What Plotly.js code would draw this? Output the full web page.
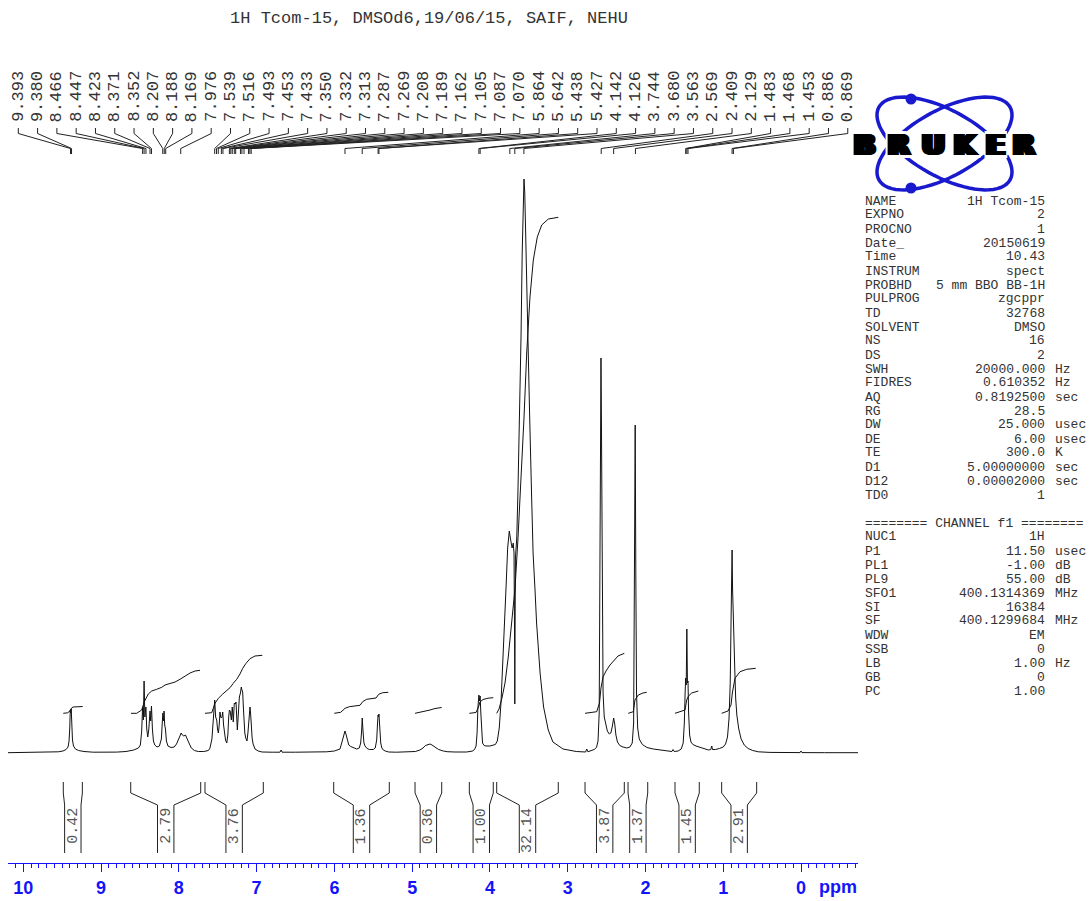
<!DOCTYPE html>
<html><head><meta charset="utf-8">
<script src="https://cdn.plot.ly/plotly-3.0.1.min.js"></script>
<style>html,body{margin:0;padding:0;background:#fff}#chart{width:1091px;height:901px}</style>
</head><body><div id="chart"></div>
<script>
// ---------------- DATA ----------------
const specPpm = [10.20,10.00,9.80,9.65,9.55,9.49,9.45,9.425,9.412,9.403,9.396,9.390,9.384,9.377,9.368,9.355,9.33,9.29,9.22,9.10,8.95,8.80,8.68,8.58,8.52,8.495,8.478,8.466,8.456,8.447,8.437,8.424,8.413,8.400,8.386,8.371,8.362,8.352,8.340,8.327,8.31,8.28,8.25,8.225,8.212,8.205,8.198,8.190,8.182,8.172,8.160,8.14,8.10,8.06,8.03,8.00,7.985,7.970,7.955,7.935,7.915,7.895,7.87,7.84,7.80,7.75,7.68,7.62,7.60,7.575,7.555,7.539,7.527,7.513,7.503,7.492,7.481,7.471,7.462,7.454,7.445,7.436,7.425,7.415,7.40,7.384,7.370,7.359,7.350,7.340,7.325,7.313,7.300,7.287,7.275,7.265,7.256,7.248,7.236,7.222,7.208,7.197,7.189,7.179,7.170,7.162,7.152,7.140,7.124,7.112,7.102,7.093,7.085,7.076,7.068,7.058,7.045,7.021,6.98,6.93,6.80,6.70,6.685,6.672,6.50,6.30,6.10,6.00,5.95,5.928,5.906,5.885,5.864,5.848,5.834,5.815,5.79,5.75,5.713,5.68,5.662,5.650,5.642,5.632,5.620,5.606,5.58,5.55,5.50,5.475,5.456,5.445,5.438,5.432,5.427,5.418,5.404,5.39,5.371,5.34,5.30,5.20,5.05,4.96,4.90,4.86,4.83,4.79,4.77,4.745,4.72,4.69,4.66,4.60,4.55,4.45,4.30,4.22,4.195,4.178,4.165,4.155,4.142,4.134,4.126,4.117,4.108,4.095,4.075,4.05,4.00,3.96,3.93,3.905,3.880,3.858,3.836,3.815,3.793,3.772,3.751,3.735,3.715,3.700,3.690,3.682,3.680,3.678,3.672,3.655,3.640,3.620,3.600,3.585,3.572,3.562,3.552,3.540,3.525,3.514,3.490,3.465,3.445,3.420,3.400,3.355,3.310,3.250,3.190,3.060,2.890,2.770,2.755,2.740,2.700,2.660,2.630,2.610,2.595,2.585,2.578,2.572,2.566,2.558,2.545,2.530,2.510,2.490,2.465,2.445,2.425,2.409,2.395,2.380,2.360,2.330,2.290,2.240,2.200,2.170,2.152,2.141,2.132,2.124,2.115,2.100,2.080,2.040,1.980,1.900,1.800,1.700,1.660,1.645,1.630,1.580,1.540,1.515,1.500,1.490,1.483,1.476,1.468,1.460,1.453,1.445,1.432,1.415,1.390,1.350,1.300,1.250,1.190,1.160,1.148,1.138,1.100,1.050,1.000,0.970,0.945,0.925,0.910,0.898,0.890,0.886,0.880,0.875,0.869,0.862,0.852,0.840,0.825,0.800,0.770,0.730,0.680,0.620,0.550,0.400,0.200,0.012,0.000,-0.012,-0.300,-0.733];
const specInt = [0.3,0.4,0.5,0.7,1.2,2,3.5,6,12,25,43,40,44,28,13,7,4,2.5,1.5,0.8,0.6,0.9,1.5,3,5,8,22,46,33,72,36,46,24,16,24,42,32,47,24,12,8,6,7,14,32,40,32,42,28,24,12,7,5.5,6,9,15,19,20,18,17,18,15,10,5,2.5,1.5,1.5,2.5,5,14,35,53,36,33,24,20,28,41,36,35,36,41,28,20,13,10,18,36,43,42,33,46,31,50,49,51,38,23,38,56,60,66,63,61,45,30,20,15,12,20,31,44,46,38,26,15,9,4,2,1,0.8,0.8,3,0.8,0.8,0.9,1.2,2,3,4,10,17,22,18,12,8,6.5,5,4,5,10,22,35,22,10,7,4.5,3.5,3.5,5,13,30,38,36,39,24,10,5,3,1.8,1,0.8,1,1.5,3,5,7.5,9,9,8,6.5,4.5,3.5,2,1.3,1,1,2,4,7,20,45,58,52,57,40,22,10,7.5,7,7,7.5,8.5,12,25,50,85,125,165,205,222,214,205,210,200,100,49,100,195,215,260,330,416,500,555,574,560,510,450,416,340,260,200,163,130,80,46,23,11,4,1.5,1,4,1.2,2,3.5,5.5,12,40,150,330,395,330,150,60,36,27,22,19,20,27,35,29,18,11,7.5,6,5,6,10,30,180,328,180,60,25,14,8.5,5.5,4,3,2,1.5,3.5,1.5,2,4,10,30,60,75,68,124,70,72,40,18,11,8.5,7,5.5,4,3,3.5,7,3.5,3.5,4.5,6,9,16,35,70,140,185,203,165,145,145,120,85,55,38,24,14,8,4.5,2.5,1.2,0.6,0.4,0.4,2,0.4,0.3,0.3];

// integral curves (ppm, value), null separates regions
const integPpm = [9.486,9.43,9.40,9.38,9.36,9.30,9.236,null,
  8.615,8.542,8.478,8.444,8.393,8.349,8.285,8.220,8.178,8.114,8.049,7.985,7.921,7.856,7.792,7.728,null,
  7.664,7.577,7.535,7.492,7.436,7.384,7.342,7.300,7.256,7.214,7.179,7.136,7.085,7.021,6.927,null,
  6.001,5.919,5.863,5.808,5.671,5.636,5.585,5.465,5.430,5.379,5.307,null,
  4.963,4.835,4.770,4.706,4.620,null,
  4.265,4.179,4.147,4.128,4.089,4.025,3.957,null,
  3.913,3.883,3.845,3.806,3.764,3.721,3.677,3.639,3.591,3.562,3.527,3.485,3.442,3.391,3.334,3.249,3.121,null,
  2.777,2.627,2.591,2.572,2.546,2.507,2.456,2.405,2.353,2.272,null,
  2.221,2.156,2.135,2.092,2.032,1.984,null,
  1.620,1.491,1.470,1.447,1.405,1.321,null,
  1.020,0.939,0.900,0.883,0.849,0.784,0.698,0.582];
const integVal = [39.7,40.2,42,45,46,46.3,46.5,null,
  39.7,39.7,43,51.3,59,62,63.7,65.7,68,69.3,71,73.7,77,80,82,82.7,null,
  39.7,40.3,49.7,54.7,59,62.3,65.3,69.7,73.7,79,84.7,89.7,94.3,97,97.7,null,
  39.7,40.7,44.7,46.3,47.7,51.3,53.7,55,58.7,60.3,60.7,null,
  39.7,41.5,43,44.5,45.5,null,
  39.7,40.5,46,51,53.5,54.8,55.3,null,
  39.7,44,55,70,96,130,165,215,283,335,400,456,493,516,528,534,535.7,null,
  39.7,41.3,50,65,76,82,88,93,97,99.7,null,
  39.7,41.3,53,58,60,60.7,null,
  39.7,43,53,57,60,62,null,
  39.7,42,48,60,74.7,81.3,83.7,84.7];

// integration regions
const regionFrom = [9.486,8.619,7.664,6.009,4.963,4.265,3.913,2.777,2.224,1.620,1.020];
const regionTo   = [9.241,7.719,6.914,5.294,4.620,3.957,3.121,2.272,1.971,1.308,0.570];
const regionLabels = ['0.42','2.79','3.76','1.36','0.36','1.00','32.14','3.87','1.37','1.45','2.91'];

// peak picking labels
const peakLabels = ['9.393','9.380','8.466','8.447','8.423','8.371','8.352','8.207','8.188','8.169','7.976',
  '7.539','7.516','7.493','7.453','7.433','7.350','7.332','7.313','7.287','7.269','7.208','7.189','7.162',
  '7.105','7.087','7.070','5.864','5.642','5.438','5.427','4.142','4.126','3.744','3.680','3.563','2.569',
  '2.409','2.129','1.483','1.468','1.453','0.886','0.869'];

// tick labels
const tickValues = [10,9,8,7,6,5,4,3,2,1,0];
const tickLabels = ['10','9','8','7','6','5','4','3','2','1','0'];

// acquisition parameters
const paramNames = ['NAME','EXPNO','PROCNO','Date_','Time','INSTRUM','PROBHD','PULPROG','TD','SOLVENT','NS','DS','SWH','FIDRES','AQ','RG','DW','DE','TE','D1','D12','TD0'];
const paramValues = ['1H Tcom-15','2','1','20150619','10.43','spect','5 mm BBO BB-1H','zgcppr','32768','DMSO','16','2','20000.000','0.610352','0.8192500','28.5','25.000','6.00','300.0','5.00000000','0.00002000','1'];
const paramUnits = ['','','','','','','','','','','','','Hz','Hz','sec','','usec','usec','K','sec','sec',''];
const channelHeader = '======== CHANNEL f1 ========';
const chanNames = ['NUC1','P1','PL1','PL9','SFO1','SI','SF','WDW','SSB','LB','GB','PC'];
const chanValues = ['1H','11.50','-1.00','55.00','400.1314369','16384','400.1299684','EM','0','1.00','0','1.00'];
const chanUnits = ['','usec','dB','dB','MHz','','MHz','','','Hz','',''];

const titleText = '1H Tcom-15, DMSOd6,19/06/15, SAIF, NEHU';

// ---------------- LAYOUT GEOMETRY ----------------
const W = 1091, H = 901;
const ML = 8, MR = 233, MT = 0, MB = 38;
const PW = W - ML - MR, PH = H - MT - MB;
const XR = [10.197, -0.733];
const YR = [-110, 753];
const pxToPpm = px => XR[0] + (px - ML) * (XR[1] - XR[0]) / PW;
const pyToVal = py => YR[1] - (py - MT) * (YR[1] - YR[0]) / PH;
const pxToPaperX = px => (px - ML) / PW;
const pyToPaperY = py => (MT + PH - py) / PH;

const BLUE = 'rgb(20,20,250)';
const INK = '#111';
const TXT = '#333';
const MONO = 'Liberation Mono, DejaVu Sans Mono, monospace';

// peak label leader lines
const leadX = [], leadY = [];
const annotations = [];
peakLabels.forEach((lab, i) => {
  const slotPpm = pxToPpm(18.3 + 19.29 * i);
  const p = parseFloat(lab);
  leadX.push(slotPpm, slotPpm, p, p, null);
  leadY.push(pyToVal(128), pyToVal(133.5), pyToVal(148.5), pyToVal(154), null);
  annotations.push({x: slotPpm, y: pyToVal(96.5), xref: 'x', yref: 'y', text: lab, showarrow: false,
    textangle: -90, xanchor: 'center', yanchor: 'middle', font: {family: MONO, size: 17, color: TXT}});
});

// integration brackets
const brX = [], brY = [];
const innerHalf = 8.2 * (XR[0] - XR[1]) / PW;
regionFrom.forEach((a, i) => {
  const b = regionTo[i];
  const c = (a + b) / 2;
  const yTop = pyToVal(782), yK1 = pyToVal(793), yK2 = pyToVal(805), yBot = pyToVal(853);
  brX.push(a, a, c + innerHalf, c + innerHalf, null, b, b, c - innerHalf, c - innerHalf, null);
  brY.push(yTop, yK1, yK2, yBot, null, yTop, yK1, yK2, yBot, null);
  annotations.push({x: c, y: pyToVal(806), xref: 'x', yref: 'y', text: regionLabels[i], showarrow: false,
    textangle: -90, xanchor: 'center', yanchor: 'top', font: {family: MONO, size: 15, color: '#555'}});
});

// parameter block
function paramLine(row, name, value, unit) {
  const py = 201 + 14 * row;
  annotations.push({x: pxToPaperX(862.5), y: pyToPaperY(py), xref: 'paper', yref: 'paper', text: name,
    showarrow: false, xanchor: 'left', yanchor: 'middle', font: {family: MONO, size: 13, color: TXT}});
  if (value) annotations.push({x: pxToPaperX(1047), y: pyToPaperY(py), xref: 'paper', yref: 'paper', text: value,
    showarrow: false, xanchor: 'right', yanchor: 'middle', font: {family: MONO, size: 13, color: TXT}});
  if (unit) annotations.push({x: pxToPaperX(1053), y: pyToPaperY(py), xref: 'paper', yref: 'paper', text: unit,
    showarrow: false, xanchor: 'left', yanchor: 'middle', font: {family: MONO, size: 13, color: TXT}});
}
paramNames.forEach((n, i) => paramLine(i, n, paramValues[i], paramUnits[i]));
paramLine(23, channelHeader, '', '');
chanNames.forEach((n, i) => paramLine(24 + i, n, chanValues[i], chanUnits[i]));

// ppm unit label
annotations.push({x: pxToPaperX(838), y: pyToPaperY(887), xref: 'paper', yref: 'paper', text: 'ppm', showarrow: false,
  xanchor: 'center', yanchor: 'middle', font: {family: 'Liberation Sans, Arial, sans-serif', size: 18, color: BLUE, weight: 'bold'}});

// BRUKER logo
const shapes = [];
const LOGO_BLUE = 'rgb(25,25,205)';
function ellipsePath(cx, cy, a, b, angDeg) {
  const t = angDeg * Math.PI / 180;
  let d = '';
  for (let k = 0; k <= 72; k++) {
    const s = k / 72 * 2 * Math.PI;
    const ex = a * Math.cos(s), ey = b * Math.sin(s);
    const px = cx + ex * Math.cos(t) - ey * Math.sin(t);
    const py = cy + ex * Math.sin(t) + ey * Math.cos(t);
    d += (k === 0 ? 'M' : 'L') + pxToPaperX(px).toFixed(5) + ',' + pyToPaperY(py).toFixed(5);
  }
  return d + 'Z';
}
shapes.push({type: 'path', xref: 'paper', yref: 'paper', path: ellipsePath(944.5, 143.5, 75, 33, 29), line: {color: LOGO_BLUE, width: 3.5}});
shapes.push({type: 'path', xref: 'paper', yref: 'paper', path: ellipsePath(944.5, 143.5, 75, 33, -29), line: {color: LOGO_BLUE, width: 3.5}});
[[911, 99], [911, 188]].forEach(([x, y]) => {
  shapes.push({type: 'circle', xref: 'paper', yref: 'paper', x0: pxToPaperX(x - 5.5), x1: pxToPaperX(x + 5.5),
    y0: pyToPaperY(y + 5.5), y1: pyToPaperY(y - 5.5), fillcolor: LOGO_BLUE, line: {color: LOGO_BLUE, width: 0}});
});
const logoText = 'BRUKER';
const letterX = [864, 898.5, 933.5, 965, 995, 1023.5];
// widened black strokes plus a white halo that cuts the orbits around each letter
const logoShadow = ['1px 0 0 #000','-1px 0 0 #000','2px 0 0 #000','-2px 0 0 #000','3px 0 0 #000','-3px 0 0 #000',
  '5px 0 0 #fff','-5px 0 0 #fff','0 3px 0 #fff','0 -3px 0 #fff','4px 3px 0 #fff','-4px 3px 0 #fff','4px -3px 0 #fff','-4px -3px 0 #fff'].join(', ');
logoText.split('').forEach((L, i) => {
  annotations.push({x: pxToPaperX(letterX[i]), y: pyToPaperY(145), xref: 'paper', yref: 'paper', text: L, showarrow: false,
    xanchor: 'center', yanchor: 'middle',
    font: {family: 'DejaVu Sans, sans-serif', size: 28, color: '#000', weight: 'bold', shadow: logoShadow}});
});

// ---------------- TRACES ----------------
const lineStyle = (w, c) => ({color: c, width: w});
const traces = [
  {x: specPpm, y: specInt, type: 'scatter', mode: 'lines', line: lineStyle(1, INK), hoverinfo: 'skip'},
  {x: integPpm, y: integVal, type: 'scatter', mode: 'lines', line: lineStyle(1, INK), hoverinfo: 'skip', connectgaps: false},
  {x: leadX, y: leadY, type: 'scatter', mode: 'lines', line: lineStyle(1, '#222'), hoverinfo: 'skip', connectgaps: false},
  {x: brX, y: brY, type: 'scatter', mode: 'lines', line: lineStyle(1, '#222'), hoverinfo: 'skip', connectgaps: false}
];

const layout = {
  width: W, height: H,
  margin: {l: ML, r: MR, t: MT, b: MB, pad: 0},
  paper_bgcolor: '#fff', plot_bgcolor: '#fff',
  showlegend: false,
  title: {text: titleText, x: 429 / W, xanchor: 'center', y: 1 - 17 / H, yanchor: 'middle', yref: 'container',
    font: {family: MONO, size: 17, color: TXT}},
  xaxis: {range: XR, autorange: false, showgrid: false, zeroline: false, showline: true, linecolor: BLUE, linewidth: 1,
    ticks: 'outside', ticklen: 8, tickwidth: 1, tickcolor: BLUE, tickvals: tickValues, ticktext: tickLabels,
    tickfont: {family: 'Liberation Sans, Arial, sans-serif', size: 18, color: BLUE, weight: 'bold'},
    minor: {dtick: 0.1, tick0: 0, ticks: 'outside', ticklen: 4, tickwidth: 1, tickcolor: BLUE, showgrid: false},
    fixedrange: true},
  yaxis: {range: YR, autorange: false, visible: false, showgrid: false, zeroline: false, fixedrange: true},
  annotations: annotations,
  shapes: shapes
};

Plotly.newPlot('chart', traces, layout, {displayModeBar: false, staticPlot: true});
</script>
</body></html>
